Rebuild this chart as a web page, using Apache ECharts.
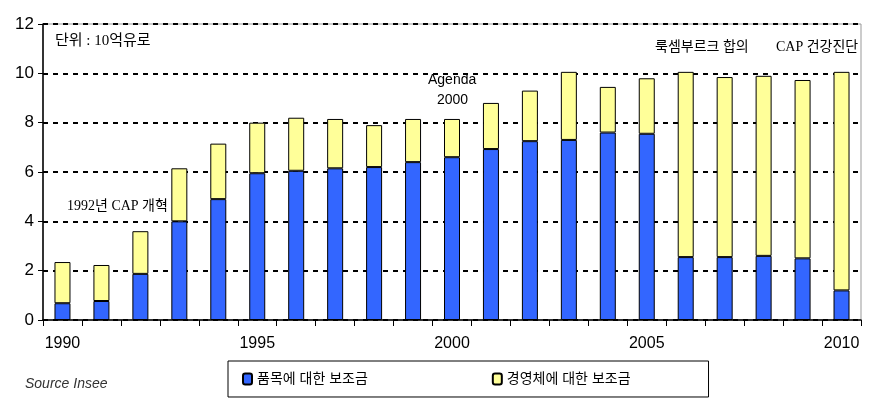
<!DOCTYPE html>
<html>
<head>
<meta charset="utf-8">
<script src="https://cdn.jsdelivr.net/npm/echarts@6/dist/echarts.min.js"></script>
<style>
  html, body { margin: 0; padding: 0; background: #fff; }
  #chart { width: 890px; height: 403px; }
</style>
</head>
<body>
<div id="chart"></div>
<script>
// 연도
var years = ['1990', '1991', '1992', '1993', '1994', '1995', '1996', '1997', '1998', '1999', '2000',
  '2001', '2002', '2003', '2004', '2005', '2006', '2007', '2008', '2009', '2010']
// 품목에 대한 보조금 (파란색)
var productAid = [0.68, 0.77, 1.87, 4.0, 4.9, 5.95, 6.05, 6.15, 6.2, 6.4, 6.6,
  6.93, 7.25, 7.3, 7.6, 7.55, 2.55, 2.55, 2.6, 2.5, 1.2]
// 경영체에 대한 보조금 (노란색)
var farmAid = [1.67, 1.46, 1.73, 2.15, 2.25, 2.05, 2.15, 2.0, 1.7, 1.75, 1.55,
  1.87, 2.05, 2.76, 1.85, 2.25, 7.51, 7.3, 7.3, 7.23, 8.86]
var seriesNames = ['품목에 대한 보조금', '경영체에 대한 보조금']

var serif = '"Liberation Serif", "Noto Sans CJK KR", serif'
var sans = 'Arial, "Liberation Sans", "Noto Sans CJK KR", sans-serif'

var chart = echarts.init(document.getElementById('chart'))
chart.setOption({
  backgroundColor: '#fff',
  animation: false,
  grid: { left: 43, right: 29, top: 24, bottom: 83, show: true, borderColor: '#999', borderWidth: 1 },
  legend: {
    data: seriesNames,
    left: 228, top: 361,
    padding: [11, 78, 11, 14],
    itemGap: 124,
    itemWidth: 9, itemHeight: 11,
    borderColor: '#000', borderWidth: 1,
    textStyle: { fontFamily: sans, fontSize: 14, color: '#000' }
  },
  xAxis: {
    type: 'category',
    data: years,
    axisLine: { lineStyle: { color: '#000', width: 1.5 } },
    axisTick: { show: true, interval: 0, length: 6, lineStyle: { color: '#000' } },
    axisLabel: { interval: 4, margin: 16, fontFamily: sans, fontSize: 16, color: '#000' }
  },
  yAxis: {
    type: 'value',
    min: 0, max: 12, interval: 2,
    axisLine: { show: true, lineStyle: { color: '#000', width: 1.5 } },
    axisTick: { show: true, length: 5, lineStyle: { color: '#000' } },
    axisLabel: { margin: 9, fontFamily: sans, fontSize: 17, color: '#000' },
    splitLine: { lineStyle: { color: '#000', type: [5, 5], width: 2 } }
  },
  series: [
    {
      name: seriesNames[0],
      type: 'bar',
      stack: 'aid',
      barWidth: 16,
      itemStyle: { color: '#3366ff', borderColor: '#000', borderWidth: 1 },
      data: productAid
    },
    {
      name: seriesNames[1],
      type: 'bar',
      stack: 'aid',
      barWidth: 16,
      itemStyle: { color: '#ffff99', borderColor: '#000', borderWidth: 1 },
      data: farmAid
    }
  ],
  graphic: [
    { type: 'text', left: 55, top: 34, style: { text: '단위 : 10억유로', font: '15px ' + serif, fill: '#000' } },
    { type: 'text', left: 67, top: 199, style: { text: '1992년 CAP 개혁', font: '14px ' + serif, fill: '#000' } },
    { type: 'text', left: 428, top: 73, style: { text: 'Agenda', font: '14px ' + sans, fill: '#000' } },
    { type: 'text', left: 437, top: 93, style: { text: '2000', font: '14px ' + sans, fill: '#000' } },
    { type: 'text', left: 655, top: 40, style: { text: '룩셈부르크 합의', font: '14px ' + serif, fill: '#000' } },
    { type: 'text', left: 776, top: 40, style: { text: 'CAP 건강진단', font: '14px ' + serif, fill: '#000' } },
    { type: 'text', left: 25, top: 377, style: { text: 'Source Insee', font: 'italic 14px ' + sans, fill: '#333' } }
  ]
})
</script>
</body>
</html>
